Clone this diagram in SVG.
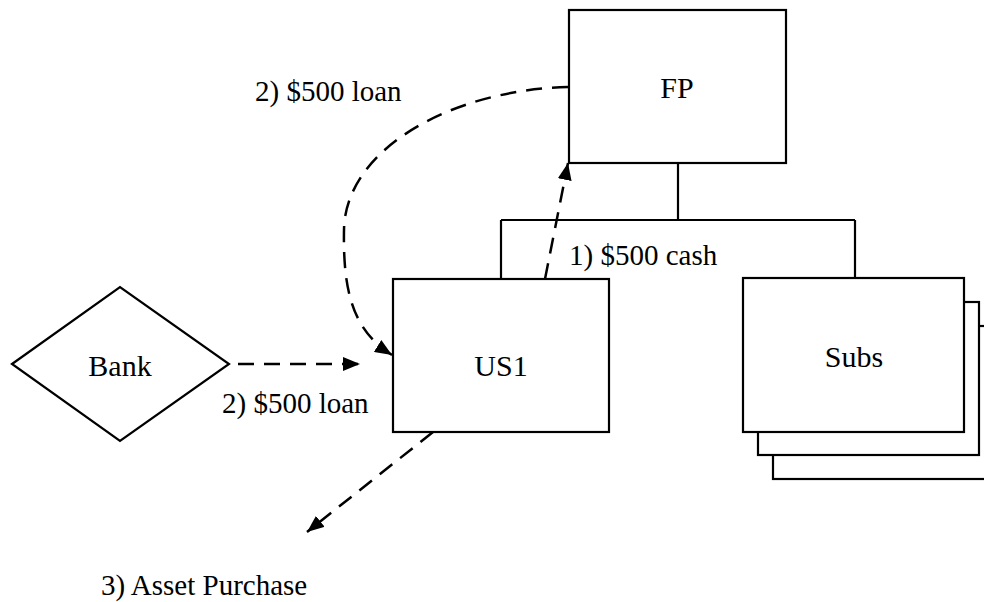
<svg xmlns="http://www.w3.org/2000/svg" width="984" height="602" viewBox="0 0 984 602">
  <defs>
    <marker id="arrow" markerUnits="userSpaceOnUse" markerWidth="18" markerHeight="14" refX="17" refY="7" orient="auto">
      <path d="M0,0 L17,7 L0,14 Z" fill="#000"/>
    </marker>
  </defs>
  <style>
    .box { fill: #fff; stroke: #000; stroke-width: 2.2; }
    .line { fill: none; stroke: #000; stroke-width: 2.2; }
    .flow { fill: none; stroke: #000; stroke-width: 2.5; stroke-dasharray: 16 10; marker-end: url(#arrow); }
    text { font-family: "Liberation Serif", "DejaVu Serif", serif; font-size: 29px; fill: #000; }
    .node { font-size: 30px; }
  </style>
  <rect width="984" height="602" fill="#fff"/>

  <g id="org-lines">
    <path class="line" d="M678,163 V220 M501,220 H855 M501,220 V279 M855,220 V278"/>
  </g>

  <g id="FP">
    <rect class="box" x="569" y="10" width="217" height="153"/>
    <text class="node" x="677" y="98" text-anchor="middle">FP</text>
  </g>

  <g id="US1">
    <rect class="box" x="393" y="279" width="216" height="153"/>
    <text class="node" x="501" y="376" text-anchor="middle">US1</text>
  </g>

  <g id="Subs">
    <rect class="box" x="773" y="326" width="221" height="153"/>
    <rect class="box" x="758" y="302" width="221" height="153"/>
    <rect class="box" x="743" y="278" width="221" height="154"/>
    <text class="node" x="854" y="367" text-anchor="middle">Subs</text>
  </g>

  <g id="Bank">
    <polygon class="box" points="12,364 120,287 229,364 120,441"/>
    <text class="node" x="120" y="376" text-anchor="middle">Bank</text>
  </g>

  <g id="connectors">
    <path class="flow" d="M545,279 L568,163"/>
    <path class="flow" d="M568,87 C450,90 345,150 344,230 C343,290 352,330 392,355"/>
    <path class="flow" d="M238,364 L360,364"/>
    <path class="flow" d="M433,432 L307,532"/>
  </g>

  <g id="labels">
    <text x="255" y="101">2) $500 loan</text>
    <text x="569" y="265">1) $500 cash</text>
    <text x="222" y="413">2) $500 loan</text>
    <text x="101" y="595">3) Asset Purchase</text>
  </g>
</svg>
